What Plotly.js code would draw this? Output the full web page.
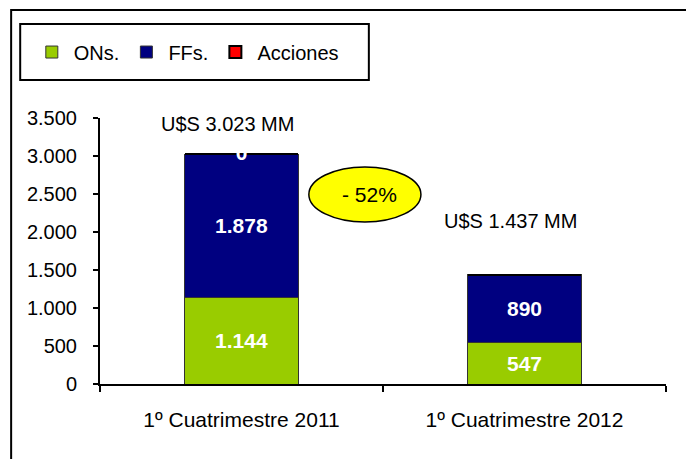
<!DOCTYPE html>
<html>
<head>
<meta charset="utf-8">
<script src="https://cdn.plot.ly/plotly-3.0.1.min.js"></script>
<style>html,body{margin:0;padding:0;background:#fff;}#chart{width:686px;height:459px;}</style>
</head>
<body>
<div id="chart"></div>
<script>
const categories = ['1º Cuatrimestre 2011', '1º Cuatrimestre 2012'];
const ons = [1144, 547];
const ffs = [1878, 890];
const acciones = [0, 0];
const accionesLabels = ['0', ''];
const totalLabels = ['U$S 3.023 MM', 'U$S 1.437 MM'];
const changeLabel = '- 52%';
const yTicks = [0, 500, 1000, 1500, 2000, 2500, 3000, 3500];

const FONT = 'Liberation Sans, Arial, sans-serif';
const totals = ons.map((v, i) => v + ffs[i] + acciones[i]);

const barCommon = {
  type: 'bar',
  x: categories,
  textposition: 'inside',
  insidetextanchor: 'middle',
  texttemplate: '%{y:,}',
  textfont: {family: FONT, size: 21, color: '#ffffff', weight: 'bold'},
  hoverinfo: 'skip'
};

const traces = [
  Object.assign({}, barCommon, {name: 'ONs.', y: ons,
    marker: {color: '#99CC00', line: {color: '#333333', width: 1}}}),
  Object.assign({}, barCommon, {name: 'FFs.', y: ffs,
    marker: {color: '#000080', line: {color: '#333333', width: 1}}}),
  Object.assign({}, barCommon, {name: 'Acciones', y: acciones, texttemplate: '',
    marker: {color: '#FF0000', line: {color: '#000000', width: 2}}}),
  {type: 'scatter', mode: 'text', x: categories, y: totals, text: accionesLabels,
   textposition: 'middle center', showlegend: false, hoverinfo: 'skip', cliponaxis: false,
   textfont: {family: FONT, size: 21, color: '#ffffff', weight: 'bold'}}
];

const layout = {
  width: 686, height: 459,
  margin: {l: 100, r: 20, t: 118, b: 75, autoexpand: false},
  paper_bgcolor: '#ffffff', plot_bgcolor: '#ffffff',
  barmode: 'stack', bargap: 0.6,
  separators: ',.',
  font: {family: FONT, size: 20, color: '#000000'},
  showlegend: true,
  legend: {orientation: 'h', x: -0.124, xanchor: 'left', y: 1.248, yanchor: 'middle',
    bgcolor: 'rgba(0,0,0,0)', borderwidth: 0, font: {family: FONT, size: 20, color: '#000'},
    traceorder: 'normal', itemwidth: 34},
  xaxis: {type: 'category', showline: true, linecolor: '#000', linewidth: 2,
    ticks: 'outside', ticklen: 6, tickcolor: '#000', tickwidth: 2, tickson: 'boundaries',
    showgrid: false, zeroline: false, ticklabelstandoff: 16,
    tickfont: {family: FONT, size: 21, color: '#000'}},
  yaxis: {range: [0, 3500], tickvals: yTicks, tickformat: ',', separatethousands: true,
    showline: true, linecolor: '#000', linewidth: 2, ticks: 'outside', ticklen: 5,
    tickcolor: '#000', tickwidth: 2, showgrid: false, zeroline: false, ticklabelstandoff: 12,
    tickfont: {family: FONT, size: 20, color: '#000'}},
  shapes: [
    {type: 'rect', xref: 'paper', yref: 'paper', x0: -0.157, x1: 1.2, y0: -0.4, y1: 1.406,
     line: {color: '#000', width: 2}, fillcolor: 'rgba(0,0,0,0)', layer: 'below'},
    {type: 'rect', xref: 'paper', yref: 'paper', x0: -0.141, x1: 0.475, y0: 1.143, y1: 1.353,
     line: {color: '#000', width: 2}, fillcolor: 'rgba(0,0,0,0)', layer: 'below'},
    {type: 'circle', xref: 'paper', yref: 'paper', x0: 0.369, x1: 0.567, y0: 0.609, y1: 0.816,
     line: {color: '#000', width: 1.5}, fillcolor: '#FFFF00'}
  ],
  annotations: [
    {xref: 'paper', yref: 'paper', x: 0.226, y: 0.977, xanchor: 'center', yanchor: 'middle',
     text: totalLabels[0], showarrow: false, font: {family: FONT, size: 20, color: '#000'}},
    {xref: 'paper', yref: 'paper', x: 0.726, y: 0.613, xanchor: 'center', yanchor: 'middle',
     text: totalLabels[1], showarrow: false, font: {family: FONT, size: 20, color: '#000'}},
    {xref: 'paper', yref: 'paper', x: 0.477, y: 0.714, xanchor: 'center', yanchor: 'middle',
     text: changeLabel, showarrow: false, font: {family: FONT, size: 21, color: '#000'}}
  ]
};

Plotly.newPlot('chart', traces, layout, {displayModeBar: false, staticPlot: true});
</script>
</body>
</html>
